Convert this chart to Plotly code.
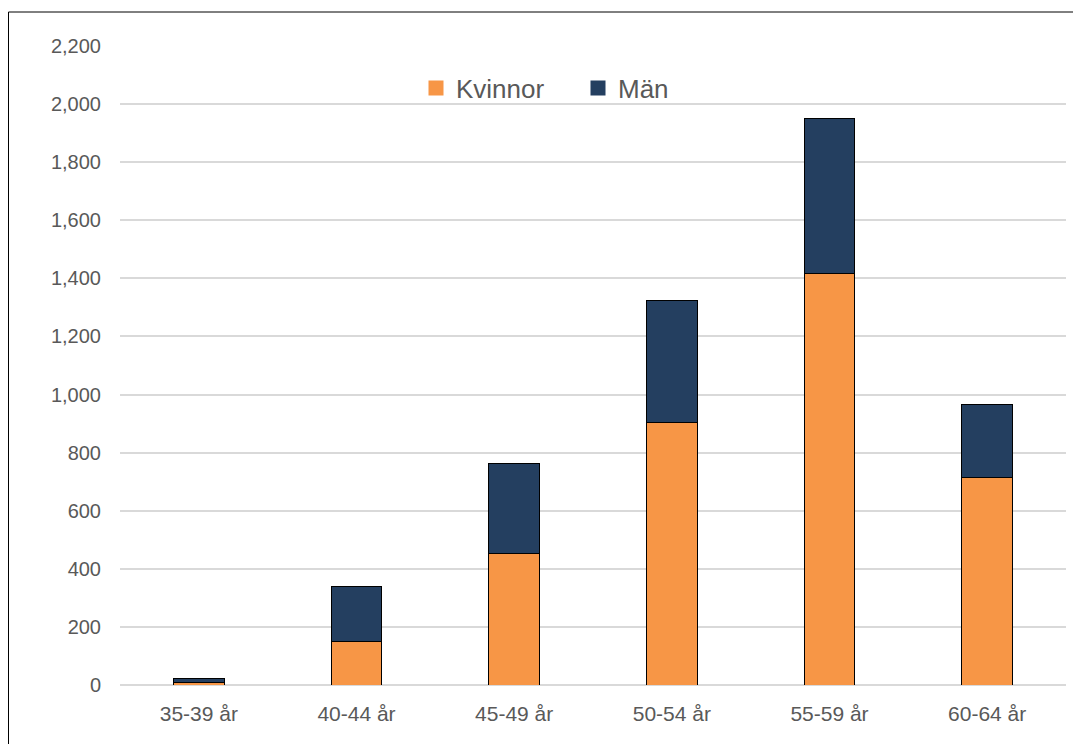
import plotly.graph_objects as go

categories = ["35-39 år", "40-44 år", "45-49 år", "50-54 år", "55-59 år", "60-64 år"]
kvinnor = [10, 150, 452, 905, 1418, 715]
man = [12, 190, 312, 420, 532, 252]
y_ticks = [0, 200, 400, 600, 800, 1000, 1200, 1400, 1600, 1800, 2000, 2200]

ORANGE = "#F79646"
NAVY = "#243F60"
FONT = "Liberation Sans, Arial, sans-serif"

fig = go.Figure()
fig.add_trace(go.Bar(x=categories, y=kvinnor, name="Kvinnor",
                     marker=dict(color=ORANGE, line=dict(color="black", width=1)), showlegend=False))
fig.add_trace(go.Bar(x=categories, y=man, name="Män",
                     marker=dict(color=NAVY, line=dict(color="black", width=1)), showlegend=False))
# legend entries (square swatches without outline)
for nm, col in (("Kvinnor", ORANGE), ("Män", NAVY)):
    fig.add_trace(go.Scatter(x=[None], y=[None], name=nm, mode="markers",
                             marker=dict(symbol="square", size=15, color=col, line=dict(width=0)),
                             hoverinfo="skip"))

# page has an 8px body margin; figure drawn at (8, 8)
W, H = 1073, 736
L, R, T, B = 112, 15, 38, 59
pw = W - L - R
ph = H - T - B

fig.update_layout(
    width=W, height=H,
    margin=dict(l=L, r=R, t=T, b=B, pad=0),
    barmode="stack",
    bargap=0.68,
    plot_bgcolor="white",
    paper_bgcolor="white",
    font=dict(family=FONT, color="#595959", size=20),
    legend=dict(
        orientation="h",
        traceorder="normal",
        x=(408 - L) / pw, xanchor="left",
        y=(H - B - 80) / ph, yanchor="middle",
        font=dict(size=26, color="#595959"),
        bgcolor="rgba(0,0,0,0)",
        entrywidth=117, entrywidthmode="pixels",
    ),
    xaxis=dict(
        showgrid=False, showline=False, ticks="",
        tickfont=dict(size=21, color="#595959"),
        ticklabelstandoff=14,
    ),
    yaxis=dict(
        range=[0, 2200],
        tickvals=y_ticks,
        tickformat=",",
        showgrid=True, gridcolor="#D9D9D9", gridwidth=1.5,
        zeroline=True, zerolinecolor="#D9D9D9", zerolinewidth=1.5,
        showline=False, ticks="",
        tickfont=dict(size=20, color="#595959"),
        ticklabelstandoff=18,
    ),
    shapes=[
        dict(type="line", xref="paper", yref="paper",
             x0=(0.5 - L) / pw, x1=(W + 20 - L) / pw,
             y0=(H - B - 4) / ph, y1=(H - B - 4) / ph,
             line=dict(color="black", width=1)),
        dict(type="line", xref="paper", yref="paper",
             x0=(0.5 - L) / pw, x1=(0.5 - L) / pw,
             y0=(H - B - 4) / ph, y1=(H - B - H - 20) / ph,
             line=dict(color="black", width=1)),
    ],
)

fig.write_html("out.html")
